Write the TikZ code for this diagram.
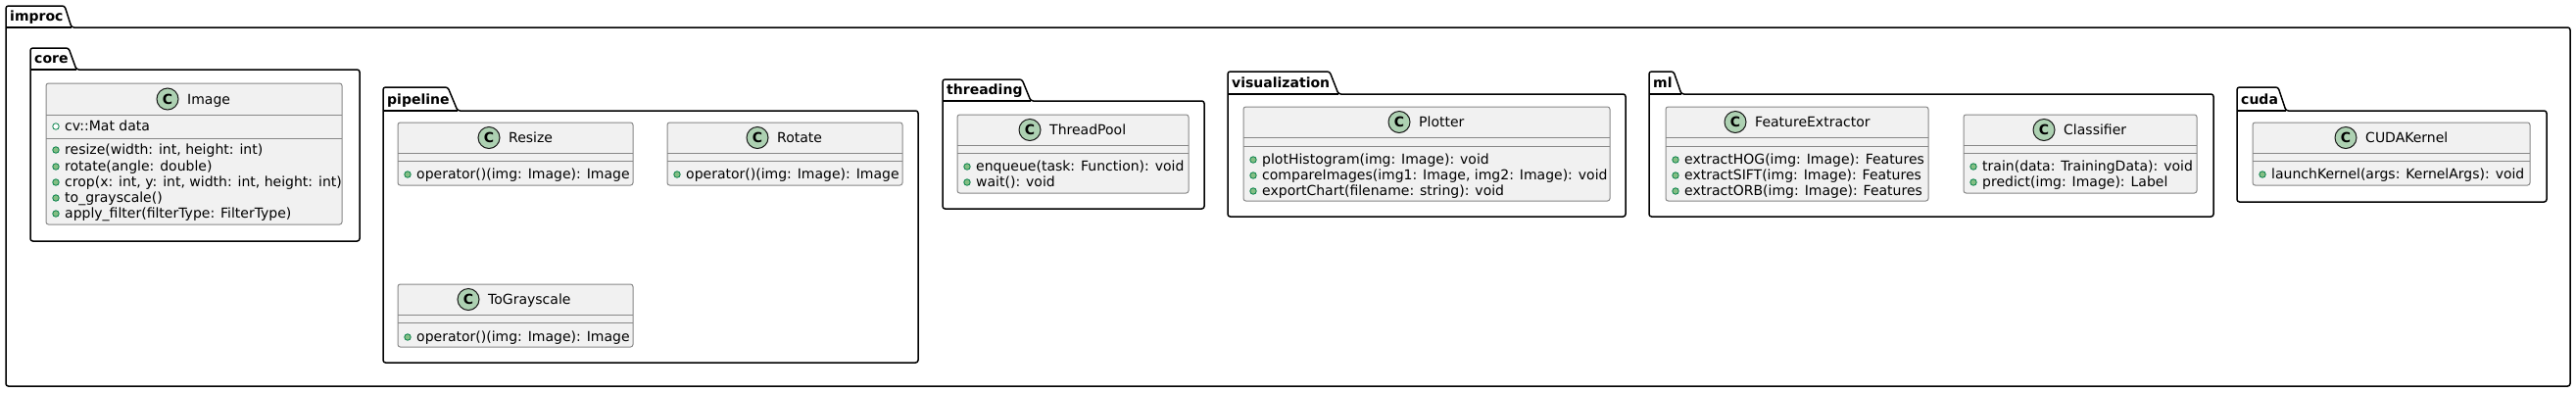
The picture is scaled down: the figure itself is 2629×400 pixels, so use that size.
\documentclass[tikz,border=0pt]{standalone}
\usepackage{fontspec}
\setmainfont{DejaVu Sans}
\definecolor{clsfill}{HTML}{F1F1F1}
\definecolor{clsborder}{HTML}{888888}
\definecolor{badgefill}{HTML}{ADD1B2}
\definecolor{badgeline}{HTML}{181818}
\definecolor{pubfill}{HTML}{84BE84}
\definecolor{publine}{HTML}{038048}
\tikzset{
  pkgline/.style={draw=black, line width=1.5pt, rounded corners=2.5pt},
  pkgtitle/.style={anchor=base west, inner sep=0pt, font=\bfseries\fontsize{14}{16}\selectfont},
  classbox/.style={draw=clsborder, fill=clsfill, line width=1pt, rounded corners=2.5pt, inner sep=0pt},
  sepline/.style={draw=clsborder, line width=1pt},
  badge/.style={circle, draw=badgeline, fill=badgefill, line width=1pt, minimum size=22pt, inner sep=0pt, font=\bfseries\fontsize{14}{16}\selectfont},
  ctitle/.style={anchor=base west, inner sep=0pt, font=\fontsize{14}{16}\selectfont},
  mtext/.style={anchor=base west, inner sep=0pt, font=\fontsize{14}{16}\selectfont},
  pubdot/.style={circle, draw=publine, fill=pubfill, line width=0.8pt, minimum size=6.5pt, inner sep=0pt},
  fielddot/.style={circle, draw=publine, fill=white, line width=0.8pt, minimum size=6.5pt, inner sep=0pt},
}
% #1 id, #2 label, #3 left, #4 tab top, #5 tab top-right, #6 tab bottom-right, #7 box top, #8 right, #9 bottom
\newcommand{\umlpkg}[9]{%
  \draw[pkgline] (#3,#7) -- (#3,#4) -- (#5,#4) -- (#6,#7) -- (#8,#7) -- (#8,#9) -- (#3,#9) -- cycle;
  \draw[pkgline] (#3,#7) -- (#6,#7);
  \node[pkgtitle] (#1) at ({#3+4},{#7-7}) {#2};
}
% #1 id, #2 title, #3 x1, #4 y1, #5 x2, #6 y2, #7 header sep, #8 field sep, #9 badge x
\newcommand{\umlclass}[9]{%
  \node[classbox, minimum width={#5-#3}, minimum height={#6-#4}] (#1) at ({(#3+#5)/2},{(#4+#6)/2}) {};
  \draw[sepline] (#3,#7) -- (#5,#7);
  \draw[sepline] (#3,#8) -- (#5,#8);
  \node[badge] (#1-c) at (#9,{(#4+#7)/2}) {C};
  \node[ctitle] (#1-t) at ({#9+20},{(#4+#7)/2+5}) {#2};
}
% #1 id, #2 class left x, #3 row centre y, #4 dot style, #5 text
\newcommand{\umlmember}[5]{%
  \node[#4] (#1-d) at ({#2+10},{#3+1}) {};
  \node[mtext] (#1) at ({#2+19},{#3+5}) {#5};
}
\begin{document}
\begin{tikzpicture}[x=1pt, y=-1pt]
\useasboundingbox (0,0) rectangle (2629,400);
\fill[white] (0,0) rectangle (2629,400);

% packages
\umlpkg{improc}{improc}{6}{6}{66}{73}{28}{2623}{394}
\umlpkg{core}{core}{31}{49}{70}{78}{71}{367}{246}
\umlpkg{pipeline}{pipeline}{391}{89}{457}{467}{113}{937}{370}
\umlpkg{threading}{threading}{962}{81}{1043}{1052}{103}{1229}{213}
\umlpkg{visualization}{visualization}{1253}{73}{1357}{1366}{96}{1659}{221}
\umlpkg{ml}{ml}{1683}{73}{1708}{1716}{96}{2259}{221}
\umlpkg{cuda}{cuda}{2283}{89}{2325}{2333}{113}{2599}{206}

% core
\umlclass{image}{Image}{47}{85}{349}{229}{117}{141}{171}
\umlmember{image-f1}{47}{128}{fielddot}{cv::Mat data}
\umlmember{image-m1}{47}{152}{pubdot}{resize(width: int, height: int)}
\umlmember{image-m2}{47}{169}{pubdot}{rotate(angle: double)}
\umlmember{image-m3}{47}{185}{pubdot}{crop(x: int, y: int, width: int, height: int)}
\umlmember{image-m4}{47}{201}{pubdot}{to\_grayscale()}
\umlmember{image-m5}{47}{217}{pubdot}{apply\_filter(filterType: FilterType)}

% pipeline
\umlclass{resize}{Resize}{406}{125}{646}{189}{156}{164}{499}
\umlmember{resize-m1}{406}{177}{pubdot}{operator()(img: Image): Image}
\umlclass{rotate}{Rotate}{681}{125}{921}{189}{156}{164}{773}
\umlmember{rotate-m1}{681}{177}{pubdot}{operator()(img: Image): Image}
\umlclass{tograyscale}{ToGrayscale}{406}{290}{646}{354}{321}{329}{478}
\umlmember{tograyscale-m1}{406}{343}{pubdot}{operator()(img: Image): Image}

% threading
\umlclass{threadpool}{ThreadPool}{977}{117}{1213}{197}{148}{156}{1051}
\umlmember{threadpool-m1}{977}{169}{pubdot}{enqueue(task: Function): void}
\umlmember{threadpool-m2}{977}{185}{pubdot}{wait(): void}

% visualization
\umlclass{plotter}{Plotter}{1269}{109}{1643}{205}{140}{149}{1428}
\umlmember{plotter-m1}{1269}{162}{pubdot}{plotHistogram(img: Image): void}
\umlmember{plotter-m2}{1269}{178}{pubdot}{compareImages(img1: Image, img2: Image): void}
\umlmember{plotter-m3}{1269}{194}{pubdot}{exportChart(filename: string): void}

% ml
\umlclass{featureextractor}{FeatureExtractor}{1700}{109}{1968}{205}{140}{149}{1771}
\umlmember{featureextractor-m1}{1700}{162}{pubdot}{extractHOG(img: Image): Features}
\umlmember{featureextractor-m2}{1700}{178}{pubdot}{extractSIFT(img: Image): Features}
\umlmember{featureextractor-m3}{1700}{194}{pubdot}{extractORB(img: Image): Features}
\umlclass{classifier}{Classifier}{2004}{117}{2242}{197}{148}{156}{2086}
\umlmember{classifier-m1}{2004}{169}{pubdot}{train(data: TrainingData): void}
\umlmember{classifier-m2}{2004}{185}{pubdot}{predict(img: Image): Label}

% cuda
\umlclass{cudakernel}{CUDAKernel}{2299}{125}{2582}{189}{156}{164}{2394}
\umlmember{cudakernel-m1}{2299}{177}{pubdot}{launchKernel(args: KernelArgs): void}
\end{tikzpicture}
\end{document}
